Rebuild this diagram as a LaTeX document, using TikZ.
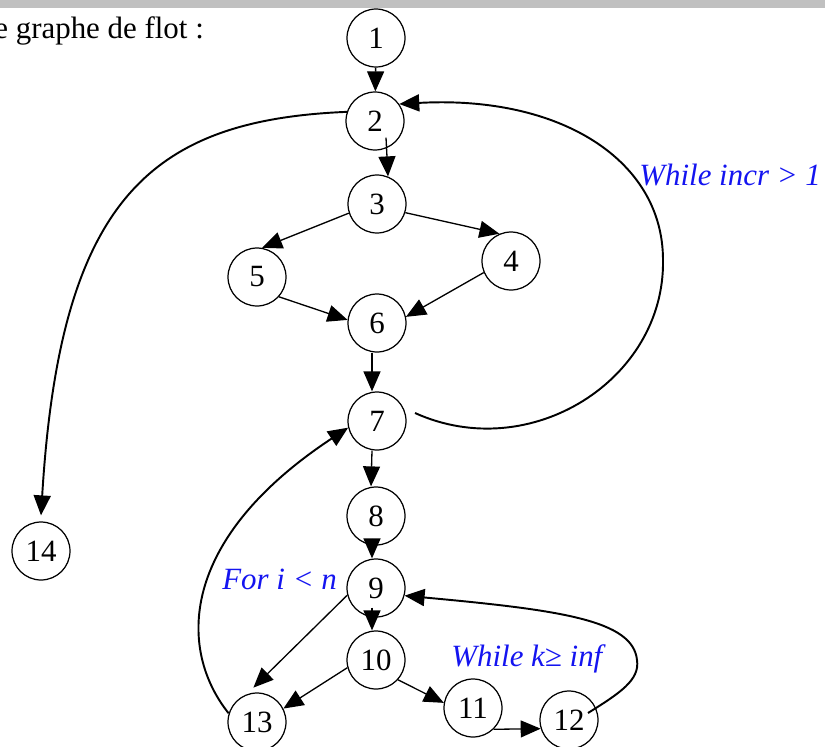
\documentclass[tikz,border=0pt]{standalone}
\usepackage{fontspec}
\setmainfont{Liberation Serif}
\definecolor{flowblue}{RGB}{20,20,240}
\definecolor{bargray}{RGB}{192,192,192}
\usetikzlibrary{arrows.meta}

\begin{document}
\begin{tikzpicture}[x=0.02cm, y=-0.02cm,
  vertex/.style={draw, circle, line width=0.7pt, minimum size=1.16cm,
    inner sep=0pt, font=\fontsize{17.6}{21}\selectfont},
  arr/.style={-{Triangle[length=0.4cm,width=0.34cm]}, line width=0.75pt},
  bigloop/.style={arr, line width=1.1pt},
  cond/.style={font=\fontsize{17.6}{21}\selectfont\itshape, text=flowblue,
    anchor=base west, inner sep=0pt}]

\useasboundingbox (0,0) rectangle (825,747);
\clip (0,0) rectangle (825,747);

% --- Top bar and caption ---
\fill[bargray] (0,0) rectangle (825,8);
\node[anchor=base west, inner sep=0pt, font=\fontsize{17.6}{21}\selectfont]
  (caption) at (-6,38) {e graphe de flot :};

% --- Nodes ---
\node[vertex] (n1) at (376,38) {1};
\node[vertex] (n2) at (375,121) {2};
\node[vertex] (n3) at (377,204) {3};
\node[vertex] (n4) at (511,261) {4};
\node[vertex] (n5) at (257,277) {5};
\node[vertex] (n6) at (377,323) {6};
\node[vertex] (n7) at (377,421) {7};
\node[vertex] (n8) at (376,516) {8};
\node[vertex] (n9) at (376,588) {9};
\node[vertex] (n10) at (376,660) {10};
\node[vertex] (n11) at (473,708) {11};
\node[vertex] (n12) at (569,720) {12};
\node[vertex] (n13) at (257,722) {13};
\node[vertex] (n14) at (41,551) {14};

% --- Loop conditions ---
\node[cond] (c1) at (639,185) {While incr > 1};
\node[cond] (c2) at (222,589) {For i < n};
\node[cond] (c3) at (451,666) {While k≥ inf};

% --- Straight edges ---
\draw[arr] (n1) -- (n2);
\draw[arr] ([xshift=0.22cm,yshift=0.26cm]n2.south) -- ([xshift=0.22cm,yshift=-0.04cm]n3.north);
\draw[arr] (n3.198) -- (n5.80);
\draw[arr] (n3.-17) -- (n4.113);
\draw[arr] (n5.-42) -- (n6.174);
\draw[arr] (n4.203) -- (n6.12);
\draw[arr] ([xshift=-0.1cm]n6.south) -- ([xshift=-0.1cm]n7.north);
\draw[arr] ([xshift=-0.1cm]n7.south) -- ([xshift=-0.1cm]n8.north);
\draw[arr] ([xshift=-0.08cm,yshift=0.14cm]n8.south) -- ([xshift=-0.08cm]n9.north);
\draw[arr] ([xshift=-0.08cm,yshift=0.2cm]n9.south) -- ([xshift=-0.08cm]n10.north);
\draw[arr] (n9.194) -- ([yshift=0.1cm]n13.97);
\draw[arr] (n10.195) -- (n13.27);
\draw[arr] (n10.-42) -- (n11.170);
\draw[arr] (n11.-46) -- (n12.197);

% --- Curved back edges ---
\draw[bigloop] ([shift={(38,-8)}]n7.center)
  .. controls (530,465) and (665,380) .. (663,260)
  .. controls (663,160) and (560,95) .. (n2.35);
\draw[bigloop] (n2.162) .. controls (150,120) and (60,200) .. ([yshift=0.12cm]n14.north);
\draw[bigloop] (n13.163) .. controls (178,650) and (178,540) .. (n7.193);
\draw[bigloop] ([shift={(19,-7)}]n12.center)
  .. controls (620,693) and (640,680) .. (637,660)
  .. controls (633,620) and (560,610) .. (n9.-15);

\end{tikzpicture}
\end{document}
